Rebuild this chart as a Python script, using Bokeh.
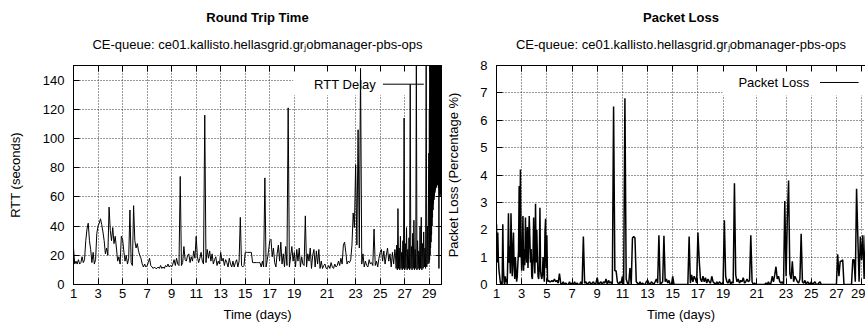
import numpy as np
from bokeh.plotting import figure
from bokeh.models import (FixedTicker, LinearAxis, Title, BoxAnnotation, Label, Arrow,
                          ColumnDataSource, Range1d, CustomJSTickFormatter)
from bokeh.layouts import row
from bokeh.embed import file_html
from bokeh.resources import INLINE

# ---------------- data ----------------
x_tick_pos = [1, 3, 5, 7, 9, 11, 13, 15, 17, 19, 21.67, 24, 26, 28, 30]
x_tick_labels = ["1", "3", "5", "7", "9", "11", "13", "15", "17", "19", "21", "23", "25", "27", "29"]
rtt_ticks = [0, 20, 40, 60, 80, 100, 120, 140]
loss_ticks = [0, 1, 2, 3, 4, 5, 6, 7, 8]

title_rtt = "Round Trip Time"
title_loss = "Packet Loss"
subtitle = "CE-queue: ce01.kallisto.hellasgrid.gr\u2c7cobmanager-pbs-ops"

# RTT (seconds): days 1.0 .. 27.2, every 0.1 day
rtt_main = [
    25, 14, 16, 14, 17, 14, 15, 19, 15, 17,
    30, 38, 42, 30, 24, 15, 22, 14, 17, 35,
    40, 42, 45, 41, 36, 30, 21, 25, 20, 53,
    37, 30, 39, 28, 33, 25, 16, 19, 14, 33,
    31, 23, 16, 20, 14, 18, 51, 15, 13, 54,
    30, 25, 28, 23, 20, 18, 14, 12, 14, 12,
    13, 15, 18, 13, 12, 11, 12, 11, 11, 12,
    11, 13, 11, 12, 11, 13, 12, 14, 12, 13,
    12, 14, 17, 13, 18, 14, 13, 74, 13, 15,
    26, 17, 16, 20, 21, 15, 19, 16, 23, 18,
    33, 19, 15, 18, 22, 16, 14, 116, 15, 24,
    18, 23, 16, 21, 14, 17, 19, 13, 16, 14,
    22, 16, 18, 13, 17, 15, 12, 18, 14, 12,
    16, 12, 15, 17, 12, 16, 46, 13, 12, 13,
    22, 22, 22, 22, 22, 22, 15, 15, 15, 15,
    15, 15, 15, 12, 16, 12, 73, 12, 17, 23,
    30, 31, 19, 25, 15, 12, 21, 27, 16, 29,
    14, 21, 12, 26, 13, 121, 12, 19, 26, 16,
    22, 12, 24, 16, 25, 12, 19, 14, 13, 47,
    12, 21, 16, 25, 11, 20, 24, 12, 23, 14,
    24, 11, 16, 11, 13, 14, 11, 11, 13, 11,
    15, 12, 11, 14, 12, 13, 16, 13, 18, 14,
    27, 29, 22, 14, 16, 15, 17, 27, 49, 39,
    82, 27, 106, 25, 148, 14, 21, 12, 16, 13,
    12, 17, 14, 15, 13, 38, 13, 16, 12, 18,
    22, 24, 16, 23, 14, 20, 25, 16, 21, 12,
    22, 14, 24,
]
rtt_main_start, rtt_main_step = 1.0, 0.1

# RTT dense part: days 27.25 .. 29.95, every 0.05 day
rtt_dense = [
    20, 11, 27, 10, 52, 11, 25, 10, 33, 11,
    22, 10, 30, 11, 114, 10, 28, 11, 39, 10,
    24, 11, 32, 10, 137, 11, 26, 10, 35, 11,
    44, 10, 24, 11, 160, 10, 30, 11, 23, 10,
    40, 11, 46, 10, 28, 11, 36, 12, 25, 11,
    160, 12, 40, 14, 70,
]
rtt_dense_start, rtt_dense_step = 27.25, 0.05

# RTT final burst: days 29.97 .. 30.95, every 0.02 day
rtt_tail = [
    90, 15, 120, 17, 200, 20, 200, 25, 200, 29,
    200, 34, 200, 40, 200, 46, 200, 51, 200, 55,
    200, 58, 200, 61, 200, 63, 200, 65, 200, 66,
    200, 67, 200, 68, 200, 69, 200, 68, 200, 66,
    200, 11, 200, 62, 200, 60, 200, 62, 200, 60,
]
rtt_tail_start, rtt_tail_step = 29.97, 0.02

# Packet loss (%): days 1.00 .. 5.20, every 0.05 day
loss_head = [
    2.2, 0.8, 1.9, 0.9, 0.5, 0.3, 0.1, 0.0, 0.1, 0.0,
    2.2, 0.6, 0.1, 0.0, 0.3, 0.1, 0.2, 0.0, 1.0, 2.6,
    0.8, 1.4, 0.4, 2.6, 1.5, 0.3, 1.2, 1.9, 0.6, 0.2,
    1.0, 0.5, 0.1, 0.3, 0.8, 1.2, 3.6, 1.0, 4.2, 1.4,
    0.5, 1.1, 2.5, 0.5, 1.3, 0.7, 2.45, 1.2, 0.8, 2.1,
    0.6, 1.4, 2.5, 1.7, 0.8, 1.3, 0.3, 0.2, 1.0, 2.45,
    1.0, 0.4, 2.95, 0.8, 2.0, 1.0, 0.3, 0.2, 0.6, 2.8,
    0.5, 0.3, 0.2, 0.4, 1.0, 0.4, 0.1, 1.9, 2.4, 0.6,
    1.8, 0.2, 0.1, 0.15, 0.1,
]
loss_head_start, loss_head_step = 1.0, 0.05

# Packet loss (%): days 5.3 .. 30.9, every 0.1 day
loss_main = [
    0.1, 0.15, 0.1, 0.2, 0.1, 0.15, 0.05,
    0.4, 0.05, 0.0, 0.1, 0.0, 0.05, 0.0, 0.0, 0.1, 0.0,
    0.05, 0.0, 0.1, 0.0, 0.05, 0.0, 0.0, 0.1, 0.0, 1.75,
    0.05, 0.1, 0.0, 0.05, 0.1, 0.0, 0.05, 0.1, 0.0, 0.05,
    0.25, 0.0, 0.05, 0.1, 0.0, 0.1, 0.05, 0.2, 0.0, 0.15,
    0.05, 0.1, 0.0, 6.5, 0.5, 0.5, 0.1, 0.0, 0.1, 0.05,
    0.3, 0.0, 6.8, 0.2, 0.05, 0.0, 0.6, 0.0, 1.7, 1.75,
    1.7, 0.1, 0.05, 0.0, 0.1, 0.0, 0.05, 0.0, 0.0, 0.1,
    0.15, 0.05, 0.0, 0.1, 0.05, 0.0, 0.1, 0.2, 0.05, 1.8,
    0.0, 0.05, 0.1, 1.78, 0.1, 0.2, 0.05, 0.15, 0.0, 0.0,
    0.3, 0.0, 0.0, 0.0, 0.0, 0.0, 0.0, 0.0, 0.0, 0.0,
    0.0, 0.0, 0.0, 1.75, 0.05, 0.35, 0.1, 0.3, 0.2, 0.05,
    1.9, 0.9, 0.2, 0.1, 0.3, 0.1, 0.25, 0.05, 0.2, 0.1,
    0.05, 0.3, 0.1, 0.05, 0.0, 0.1, 0.0, 0.1, 0.05, 0.0,
    0.1, 2.35, 0.3, 0.1, 0.05, 0.2, 0.0, 0.1, 0.05, 3.7,
    0.35, 0.1, 0.2, 0.05, 0.15, 0.1, 0.25, 0.05, 0.1, 0.2,
    0.1, 0.15, 1.8, 0.1, 0.0, 0.05, 0.0, 0.0, 0.0, 0.0,
    0.0, 0.0, 0.0, 0.0, 0.05, 0.0, 0.1, 0.0, 0.05, 0.3,
    0.1, 0.35, 0.65, 0.2, 0.3, 0.1, 0.05, 0.1, 0.0, 3.05,
    0.3, 2.4, 3.8, 0.4, 0.2, 0.85, 0.1, 0.3, 0.2, 0.1,
    0.05, 0.2, 1.85, 0.1, 0.05, 0.15, 0.0, 0.1, 0.05, 0.0,
    0.1, 0.0, 0.05, 0.1, 0.0, 0.0, 0.05, 0.1, 0.0, 0.0,
    0.0, 0.0, 0.0, 0.0, 0.0, 0.0, 0.0, 0.0, 0.0, 0.0,
    0.0, 1.1, 0.3, 0.85, 0.85, 0.9, 0.0, 0.0, 0.0, 0.0,
    0.0, 0.0, 0.0, 0.9, 0.9, 0.1, 3.5, 1.75, 0.1, 1.75,
    0.9, 1.8, 0.2, 1.8, 0.9, 0.1, 1.2, 0.3, 0.9, 0.5,
]
loss_main_start, loss_main_step = 5.3, 0.1


def times(start, step, values):
    return np.round(start + step * np.arange(len(values)), 3)


rtt_t = np.concatenate([times(rtt_main_start, rtt_main_step, rtt_main),
                        times(rtt_dense_start, rtt_dense_step, rtt_dense),
                        times(rtt_tail_start, rtt_tail_step, rtt_tail)])
rtt_v = np.array(rtt_main + rtt_dense + rtt_tail, dtype=float)
loss_t = np.concatenate([times(loss_head_start, loss_head_step, loss_head),
                         times(loss_main_start, loss_main_step, loss_main)])
loss_v = np.array(loss_head + loss_main, dtype=float)

# ---------------- styling ----------------
FONT = "Liberation Sans"
FS = "13px"
H = 324


def style_axis(ax, tick_in=6):
    ax.major_tick_in = tick_in
    ax.major_tick_out = 0
    ax.minor_tick_in = 0
    ax.minor_tick_out = 0
    ax.axis_line_color = "black"
    ax.axis_line_width = 1
    ax.major_tick_line_color = "black"
    ax.major_label_text_font = FONT
    ax.major_label_text_font_size = FS
    ax.major_label_text_color = "black"
    ax.axis_label_text_font = FONT
    ax.axis_label_text_font_size = FS
    ax.axis_label_text_font_style = "normal"
    ax.axis_label_text_color = "black"


def blank_axis(ticks):
    ax = LinearAxis(ticker=FixedTicker(ticks=ticks),
                    formatter=CustomJSTickFormatter(code="return ''"))
    style_axis(ax)
    ax.major_label_text_font_size = "0px"
    ax.major_label_standoff = 0
    return ax


def make_plot(width, x_end, y_end, y_ticks, min_left, min_right, ylabel, ylabel_standoff,
              main_title, t, v, outline, mirror_right, lw):
    p = figure(width=width, height=H, x_range=Range1d(1, x_end), y_range=Range1d(0, y_end),
               output_backend="svg", toolbar_location=None,
               min_border_left=min_left, min_border_right=min_right,
               min_border_top=65, min_border_bottom=40,
               background_fill_color="white", border_fill_color="white")
    p.outline_line_color = "black" if outline else None
    p.outline_line_width = 1

    xt = FixedTicker(ticks=x_tick_pos)
    yt = FixedTicker(ticks=y_ticks)

    xa = p.xaxis[0]
    xa.ticker = xt
    xa.major_label_overrides = {k: s for k, s in zip(x_tick_pos, x_tick_labels)}
    xa.axis_label = "Time (days)"
    style_axis(xa)
    xa.major_label_standoff = 4
    xa.axis_label_standoff = 6

    ya = p.yaxis[0]
    ya.ticker = yt
    ya.axis_label = ylabel
    style_axis(ya)
    ya.major_label_standoff = 9
    ya.axis_label_standoff = ylabel_standoff

    for g, tk in ((p.xgrid[0], xt), (p.ygrid[0], yt)):
        g.ticker = tk
        g.grid_line_color = "#333333"
        g.grid_line_dash = "1 2"
        g.grid_line_width = 1

    # mirrored inward ticks on the top border
    p.add_layout(blank_axis(x_tick_pos), "above")
    # invisible spacer between the frame and the subtitle
    spacer = blank_axis(x_tick_pos)
    spacer.major_tick_out = 4
    spacer.major_tick_in = 0
    spacer.major_tick_line_color = None
    spacer.axis_line_color = None
    p.add_layout(spacer, "above")

    if mirror_right:
        p.add_layout(blank_axis(y_ticks), "right")

    p.add_layout(Title(text=subtitle, align="center", text_font=FONT, text_font_size=FS,
                       text_font_style="normal", text_color="black", standoff=20), "above")
    p.add_layout(Title(text=main_title, align="center", text_font=FONT, text_font_size=FS,
                       text_font_style="bold", text_color="black", standoff=0), "above")

    src = ColumnDataSource(data=dict(t=t, v=v))
    p.line("t", "v", source=src, line_color="black", line_width=lw)
    return p


p1 = make_plot(443, 31, 150, rtt_ticks, 73, 2, "RTT (seconds)", 17, title_rtt,
               rtt_t, rtt_v, True, True, 1)
p2 = make_plot(422, 30.31, 8, loss_ticks, 48, 0, "Packet Loss (Percentage %)", 16, title_loss,
               loss_t, loss_v, False, False, 1.5)

# key boxes (gnuplot style: text then line sample)
p1.add_layout(BoxAnnotation(left=18.9, bottom=129.7, fill_color="white", fill_alpha=1.0,
                            line_color=None, level="underlay"))
p1.add_layout(Label(x=25.66, y=137.2, text="RTT Delay", text_align="right", text_baseline="middle",
                    text_font=FONT, text_font_size=FS, text_color="black", level="underlay"))
p1.add_layout(Arrow(x_start=26.23, y_start=137.2, x_end=29.56, y_end=137.2, end=None,
                    line_color="black", line_width=1, level="underlay"))

p2.add_layout(BoxAnnotation(left=18.95, bottom=6.9, fill_color="white", fill_alpha=1.0,
                            line_color=None, level="underlay"))
p2.add_layout(Label(x=25.84, y=7.38, text="Packet Loss", text_align="right", text_baseline="middle",
                    text_font=FONT, text_font_size=FS, text_color="black", level="underlay"))
p2.add_layout(Arrow(x_start=26.7, y_start=7.38, x_end=29.76, y_end=7.38, end=None,
                    line_color="black", line_width=1, level="underlay"))

layout = row(p1, p2)
open("out.html", "w").write(file_html(layout, INLINE))
